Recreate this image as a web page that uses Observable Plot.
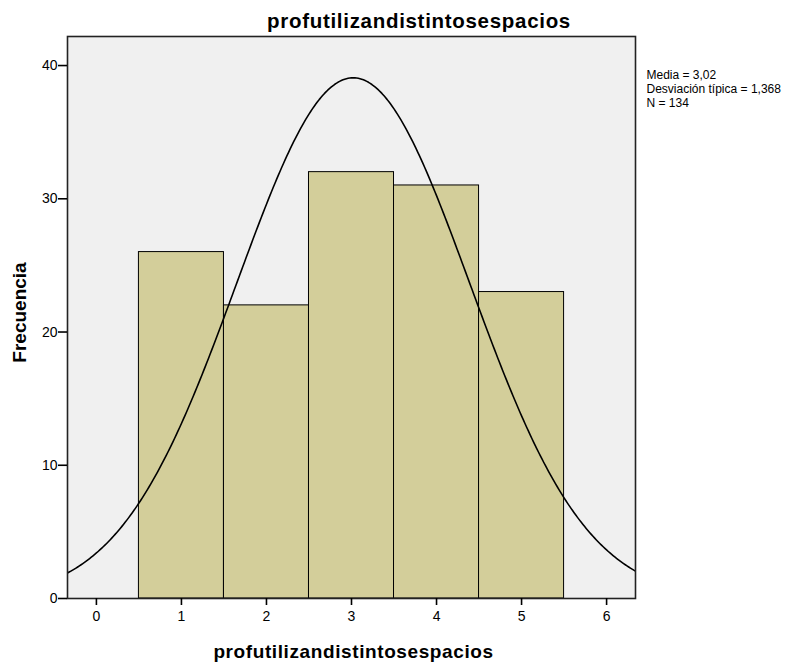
<!DOCTYPE html>
<html>
<head>
<meta charset="utf-8">
<script src="https://cdn.jsdelivr.net/npm/d3@7"></script>
<script src="https://cdn.jsdelivr.net/npm/@observablehq/plot@0.6"></script>
<style>
  body { margin: 0; background: #fff; }
  svg { font-family: "Liberation Sans", Arial, sans-serif; }
</style>
</head>
<body>
<div id="chart"></div>
<script>
// Data
const categories = [1, 2, 3, 4, 5];
const counts = [26, 22, 32, 31, 23];
const xTicks = [0, 1, 2, 3, 4, 5, 6];
const yTicks = [0, 10, 20, 30, 40];
const mean = 3.02;
const sd = 1.368;
const n = 134;
const title = "profutilizandistintosespacios";
const xLabel = "profutilizandistintosespacios";
const yLabel = "Frecuencia";
const statsLines = ["Media = 3,02", "Desviación típica = 1,368", "N = 134"];

const bars = categories.map((c, i) => ({x1: c - 0.5, x2: c + 0.5, y: counts[i]}));

// Fitted normal curve defined by the stats in the legend (bin width 1)
const xDomain = [-0.34, 6.34];
const curve = d3.range(xDomain[0], xDomain[1] + 0.0001, 0.02).map(x => ({
  x,
  y: n * 1 * Math.exp(-0.5 * ((x - mean) / sd) ** 2) / (sd * Math.sqrt(2 * Math.PI))
}));

const chart = Plot.plot({
  width: 812,
  height: 663,
  marginLeft: 67,
  marginRight: 177,
  marginTop: 36,
  marginBottom: 65,
  style: {fontFamily: '"Liberation Sans", Arial, sans-serif', fontSize: "14px", color: "#000", background: "#fff"},
  x: {domain: xDomain},
  y: {domain: [0, 42.18]},
  marks: [
    Plot.frame({fill: "#f0f0f0", stroke: "none"}),
    Plot.rectY(bars, {x1: "x1", x2: "x2", y: "y", fill: "#d3ce9a", stroke: "#000", strokeWidth: 1}),
    Plot.line(curve, {x: "x", y: "y", stroke: "#000", strokeWidth: 1.6, clip: true}),
    Plot.frame({stroke: "#222", strokeWidth: 1.6}),
    Plot.axisX({ticks: xTicks, tickSize: 7, tickPadding: 6, tickFormat: d => String(d), label: null, fontSize: 14, strokeWidth: 1.6, stroke: "#000"}),
    Plot.axisY({ticks: yTicks, tickSize: 9, tickPadding: 1, tickFormat: d => String(d), label: null, fontSize: 14, strokeWidth: 1.6, stroke: "#000"}),
    Plot.text([title], {frameAnchor: "top", lineAnchor: "bottom", dx: 67.5, dy: -9, fontSize: 20.5, fontWeight: "bold", fill: "#000"}),
    Plot.text([xLabel], {frameAnchor: "bottom", lineAnchor: "bottom", dx: 2, dy: 59, fontSize: 19, fontWeight: "bold", fill: "#000"}),
    Plot.text([yLabel], {frameAnchor: "left", textAnchor: "middle", lineAnchor: "bottom", dx: -42, dy: -5, rotate: -90, fontSize: 19, fontWeight: "bold", fill: "#000"}),
    Plot.text([statsLines.join("\n")], {frameAnchor: "top-right", dx: 11, dy: 33, textAnchor: "start", lineAnchor: "top", lineHeight: 1.15, fontSize: 12, fill: "#000"})
  ]
});
// Slight letter spacing, as in the reference's bold labels
d3.select(chart).selectAll("g").each(function () {
  const fs = this.getAttribute("font-size");
  if (fs === "20.5") this.setAttribute("letter-spacing", "0.7px");
  if (fs === "19" && !this.querySelector("text[transform*='rotate']")) this.setAttribute("letter-spacing", "0.6px");
});
document.getElementById("chart").appendChild(chart);
</script>
</body>
</html>
